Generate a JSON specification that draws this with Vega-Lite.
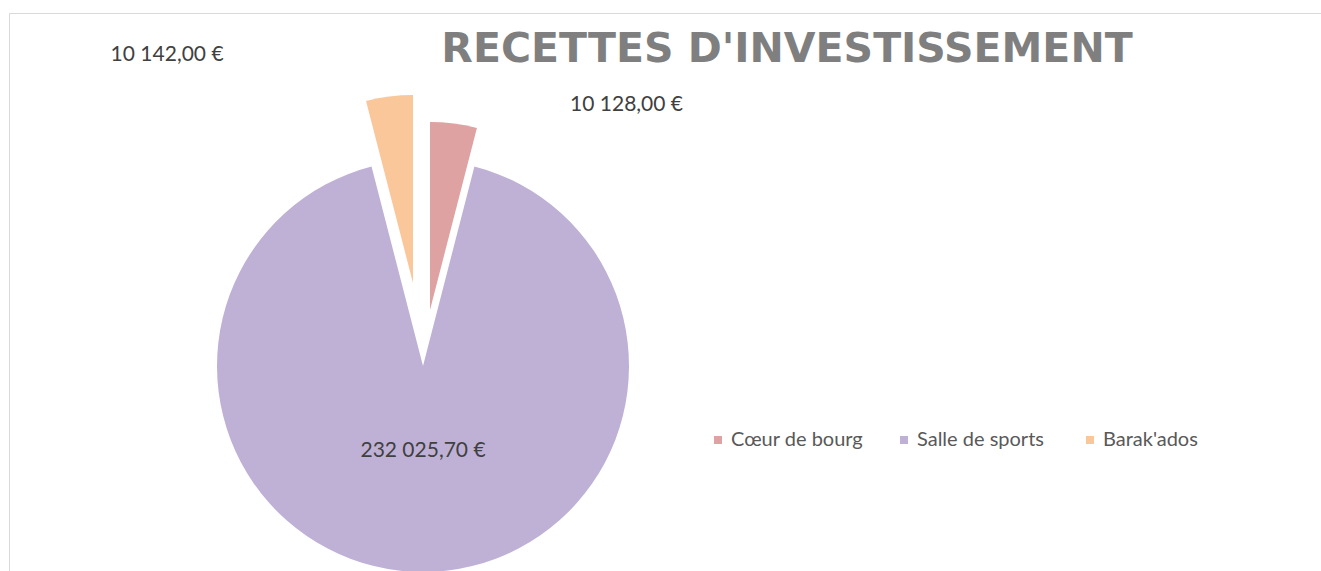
{
  "$schema": "https://vega.github.io/schema/vega-lite/v6.json",
  "autosize": "none",
  "width": 1312,
  "height": 558,
  "padding": {"left": 9, "top": 13, "right": 0, "bottom": 0},
  "background": "white",
  "view": {"stroke": "#d9d9d9", "strokeWidth": 1, "fill": null},
  "config": {
    "locale": {
      "number": {"decimal": ",", "thousands": " ", "grouping": [3], "currency": ["", " €"]}
    }
  },
  "title": {
    "text": "RECETTES D'INVESTISSEMENT",
    "font": "DejaVu Sans",
    "fontWeight": "bold",
    "fontSize": 41,
    "color": "#7f7f7f",
    "anchor": "middle",
    "frame": "group",
    "baseline": "top",
    "offset": -58,
    "dx": 122
  },
  "data": {
    "values": [
      {"categorie": "Cœur de bourg", "montant": 10128},
      {"categorie": "Salle de sports", "montant": 232025.7},
      {"categorie": "Barak'ados", "montant": 10142}
    ]
  },
  "transform": [
    {"stack": "montant", "groupby": [], "as": ["v0", "v1"]}
  ],
  "encoding": {
    "color": {
      "field": "categorie",
      "type": "nominal",
      "scale": {
        "domain": ["Cœur de bourg", "Salle de sports", "Barak'ados"],
        "range": ["#dfa2a2", "#bfb1d6", "#fac79b"]
      },
      "legend": {
        "title": null,
        "orient": "none",
        "direction": "horizontal",
        "legendX": 699,
        "legendY": 417,
        "padding": 0,
        "gridAlign": "all",
        "columnPadding": 30,
        "symbolType": "square",
        "symbolSize": 64,
        "symbolOpacity": 1,
        "symbolStrokeWidth": 0,
        "labelFont": "Lato",
        "labelFontSize": 20,
        "labelColor": "#595959",
        "labelOffset": 3,
        "labelLimit": 300
      }
    }
  },
  "layer": [
    {
      "transform": [{"filter": "datum.categorie === 'Salle de sports'"}],
      "mark": {"type": "arc", "outerRadius": 206, "xOffset": -242, "yOffset": 74},
      "encoding": {
        "theta": {"field": "v0", "type": "quantitative"},
        "theta2": {"field": "v1"}
      }
    },
    {
      "transform": [{"filter": "datum.categorie === 'Cœur de bourg'"}],
      "mark": {"type": "arc", "outerRadius": 188, "xOffset": -235, "yOffset": 18},
      "encoding": {
        "theta": {"field": "v0", "type": "quantitative"},
        "theta2": {"field": "v1"}
      }
    },
    {
      "transform": [{"filter": "datum.categorie === \"Barak'ados\""}],
      "mark": {"type": "arc", "outerRadius": 188, "xOffset": -252, "yOffset": -9},
      "encoding": {
        "theta": {"field": "v0", "type": "quantitative"},
        "theta2": {"field": "v1"}
      }
    },
    {
      "mark": {"type": "text", "radius": 85, "xOffset": -242, "yOffset": 74, "font": "Lato", "fontSize": 21, "align": "center", "baseline": "middle"},
      "encoding": {
        "theta": {"field": "montant", "type": "quantitative", "stack": true},
        "order": {"field": "v0", "type": "quantitative"},
        "detail": {"field": "categorie"},
        "color": {"value": "#404040"},
        "text": {
          "condition": {"test": "datum.categorie === 'Salle de sports'", "field": "montant", "type": "quantitative", "format": "$,.2f"},
          "value": ""
        }
      }
    },
    {
      "mark": {"type": "text", "radius": 313, "xOffset": -242, "yOffset": 74, "dx": -160, "font": "Lato", "fontSize": 21, "align": "right", "baseline": "middle"},
      "encoding": {
        "theta": {"field": "montant", "type": "quantitative", "stack": true},
        "order": {"field": "v0", "type": "quantitative"},
        "detail": {"field": "categorie"},
        "color": {"value": "#404040"},
        "text": {
          "condition": {"test": "datum.categorie === \"Barak'ados\"", "field": "montant", "type": "quantitative", "format": "$,.2f"},
          "value": ""
        }
      }
    },
    {
      "mark": {"type": "text", "radius": 263, "xOffset": -242, "yOffset": 74, "dx": 114, "font": "Lato", "fontSize": 21, "align": "left", "baseline": "middle"},
      "encoding": {
        "theta": {"field": "montant", "type": "quantitative", "stack": true},
        "order": {"field": "v0", "type": "quantitative"},
        "detail": {"field": "categorie"},
        "color": {"value": "#404040"},
        "text": {
          "condition": {"test": "datum.categorie === 'Cœur de bourg'", "field": "montant", "type": "quantitative", "format": "$,.2f"},
          "value": ""
        }
      }
    }
  ]
}
